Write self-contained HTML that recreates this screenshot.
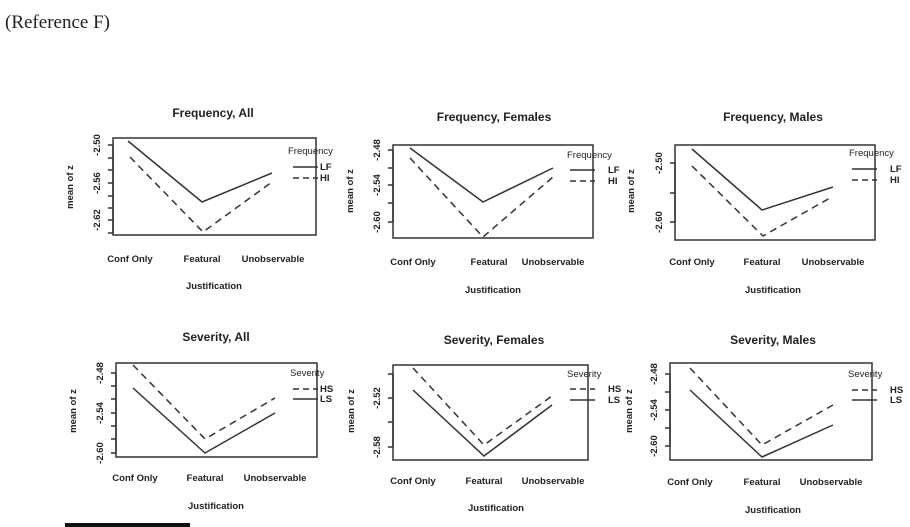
<!DOCTYPE html>
<html><head><meta charset="utf-8"><style>
html,body{margin:0;padding:0;background:#fff;width:910px;height:527px;overflow:hidden}
svg{display:block}
text{font-family:"Liberation Sans",sans-serif;fill:#222;font-weight:bold}
.t{font-size:12px}
.s{font-size:9.5px}
.l{font-size:9.5px;font-weight:normal}
</style></head><body>
<svg width="910" height="527" viewBox="0 0 910 527" xmlns="http://www.w3.org/2000/svg">
<text x="5" y="28" style="font-family:'Liberation Serif',serif;font-weight:normal;font-size:19px">(Reference F)</text>
<g stroke="#333" fill="none" stroke-width="1.5">
<!-- panel 1 -->
<rect x="113" y="138" width="203" height="97"/>
<path d="M108 145H113M108 158H113M108 170H113M108 183H113M108 196H113M108 208H113M108 220H113M108 233H113M113 145V233"/>
<path d="M128 141L202 202L272 173"/>
<path d="M130 157L203 232L272 182" stroke-dasharray="7,5"/>
<path d="M293 167H318"/><path d="M293 178H318" stroke-dasharray="6,4"/>
<!-- panel 2 -->
<rect x="393" y="145" width="200" height="93"/>
<path d="M388 150H393M388 168H393M388 185H393M388 203H393M388 222H393M393 150V222"/>
<path d="M410 148L483 202L553 168"/>
<path d="M410 158L483 237L553 177" stroke-dasharray="7,5"/>
<path d="M570 170H595"/><path d="M570 181H595" stroke-dasharray="6,4"/>
<!-- panel 3 -->
<rect x="675" y="145" width="200" height="95"/>
<path d="M670 163H675M670 193H675M670 222H675M675 163V222"/>
<path d="M692 149L762 210L833 187"/>
<path d="M692 166L763 236L830 198" stroke-dasharray="7,5"/>
<path d="M852 169H877"/><path d="M852 180H877" stroke-dasharray="6,4"/>
<!-- panel 4 -->
<rect x="116" y="363" width="201" height="94"/>
<path d="M111 373H116M111 386H116M111 399H116M111 413H116M111 426H116M111 439H116M111 453H116M116 373V453"/>
<path d="M133 365L205 439L275 398" stroke-dasharray="7,5"/>
<path d="M133 388L205 453L275 413"/>
<path d="M293 389H318" stroke-dasharray="6,4"/><path d="M293 399H318"/>
<!-- panel 5 -->
<rect x="393" y="365" width="195" height="95"/>
<path d="M388 374H393M388 398H393M388 422H393M388 447H393M393 374V447"/>
<path d="M413 368L484 445L552 396" stroke-dasharray="7,5"/>
<path d="M413 390L484 456L552 405"/>
<path d="M570 389H595" stroke-dasharray="6,4"/><path d="M570 400H595"/>
<!-- panel 6 -->
<rect x="670" y="363" width="202" height="97"/>
<path d="M665 374H670M665 392H670M665 410H670M665 428H670M665 446H670M670 374V446"/>
<path d="M690 368L762 445L833 405" stroke-dasharray="7,5"/>
<path d="M690 390L762 457L833 425"/>
<path d="M852 390H877" stroke-dasharray="6,4"/><path d="M852 400H877"/>
</g>
<rect x="65" y="523" width="125" height="4" fill="#111"/>
<!-- titles -->
<g class="t" text-anchor="middle">
<text x="213" y="117" class="t">Frequency, All</text>
<text x="494" y="121" class="t">Frequency, Females</text>
<text x="773" y="121" class="t">Frequency, Males</text>
<text x="216" y="341" class="t">Severity, All</text>
<text x="494" y="344" class="t">Severity, Females</text>
<text x="773" y="344" class="t">Severity, Males</text>
</g>
<!-- x labels -->
<g text-anchor="middle">
<text class="s" x="130" y="262">Conf Only</text><text class="s" x="202" y="262">Featural</text><text class="s" x="273" y="262">Unobservable</text>
<text class="s" x="214" y="289">Justification</text>
<text class="s" x="413" y="265">Conf Only</text><text class="s" x="489" y="265">Featural</text><text class="s" x="553" y="265">Unobservable</text>
<text class="s" x="493" y="293">Justification</text>
<text class="s" x="692" y="265">Conf Only</text><text class="s" x="762" y="265">Featural</text><text class="s" x="833" y="265">Unobservable</text>
<text class="s" x="773" y="293">Justification</text>
<text class="s" x="135" y="481">Conf Only</text><text class="s" x="205" y="481">Featural</text><text class="s" x="275" y="481">Unobservable</text>
<text class="s" x="216" y="509">Justification</text>
<text class="s" x="413" y="484">Conf Only</text><text class="s" x="484" y="484">Featural</text><text class="s" x="553" y="484">Unobservable</text>
<text class="s" x="496" y="511">Justification</text>
<text class="s" x="690" y="485">Conf Only</text><text class="s" x="762" y="485">Featural</text><text class="s" x="831" y="485">Unobservable</text>
<text class="s" x="773" y="513">Justification</text>
</g>
<!-- y tick labels -->
<g text-anchor="middle" class="s">
<text class="s" transform="translate(100,145) rotate(-90)">-2.50</text>
<text class="s" transform="translate(100,183) rotate(-90)">-2.56</text>
<text class="s" transform="translate(100,220) rotate(-90)">-2.62</text>
<text class="s" transform="translate(380,150) rotate(-90)">-2.48</text>
<text class="s" transform="translate(380,185) rotate(-90)">-2.54</text>
<text class="s" transform="translate(380,222) rotate(-90)">-2.60</text>
<text class="s" transform="translate(662,163) rotate(-90)">-2.50</text>
<text class="s" transform="translate(662,222) rotate(-90)">-2.60</text>
<text class="s" transform="translate(103,373) rotate(-90)">-2.48</text>
<text class="s" transform="translate(103,413) rotate(-90)">-2.54</text>
<text class="s" transform="translate(103,453) rotate(-90)">-2.60</text>
<text class="s" transform="translate(380,398) rotate(-90)">-2.52</text>
<text class="s" transform="translate(380,447) rotate(-90)">-2.58</text>
<text class="s" transform="translate(657,374) rotate(-90)">-2.48</text>
<text class="s" transform="translate(657,410) rotate(-90)">-2.54</text>
<text class="s" transform="translate(657,446) rotate(-90)">-2.60</text>
<text class="s" transform="translate(73,187) rotate(-90)">mean of  z</text>
<text class="s" transform="translate(353,191) rotate(-90)">mean of  z</text>
<text class="s" transform="translate(634,191) rotate(-90)">mean of  z</text>
<text class="s" transform="translate(76,411) rotate(-90)">mean of  z</text>
<text class="s" transform="translate(354,411) rotate(-90)">mean of  z</text>
<text class="s" transform="translate(632,411) rotate(-90)">mean of  z</text>
</g>
<!-- legends -->
<text class="l" x="288" y="154">Frequency</text><text class="s" x="320" y="170">LF</text><text class="s" x="320" y="181">HI</text>
<text class="l" x="567" y="158">Frequency</text><text class="s" x="608" y="173">LF</text><text class="s" x="608" y="184">HI</text>
<text class="l" x="849" y="156">Frequency</text><text class="s" x="890" y="172">LF</text><text class="s" x="890" y="183">HI</text>
<text class="l" x="290" y="376">Severity</text><text class="s" x="320" y="392">HS</text><text class="s" x="320" y="402">LS</text>
<text class="l" x="567" y="377">Severity</text><text class="s" x="608" y="392">HS</text><text class="s" x="608" y="403">LS</text>
<text class="l" x="848" y="377">Severity</text><text class="s" x="890" y="393">HS</text><text class="s" x="890" y="403">LS</text>
</svg>
</body></html>
